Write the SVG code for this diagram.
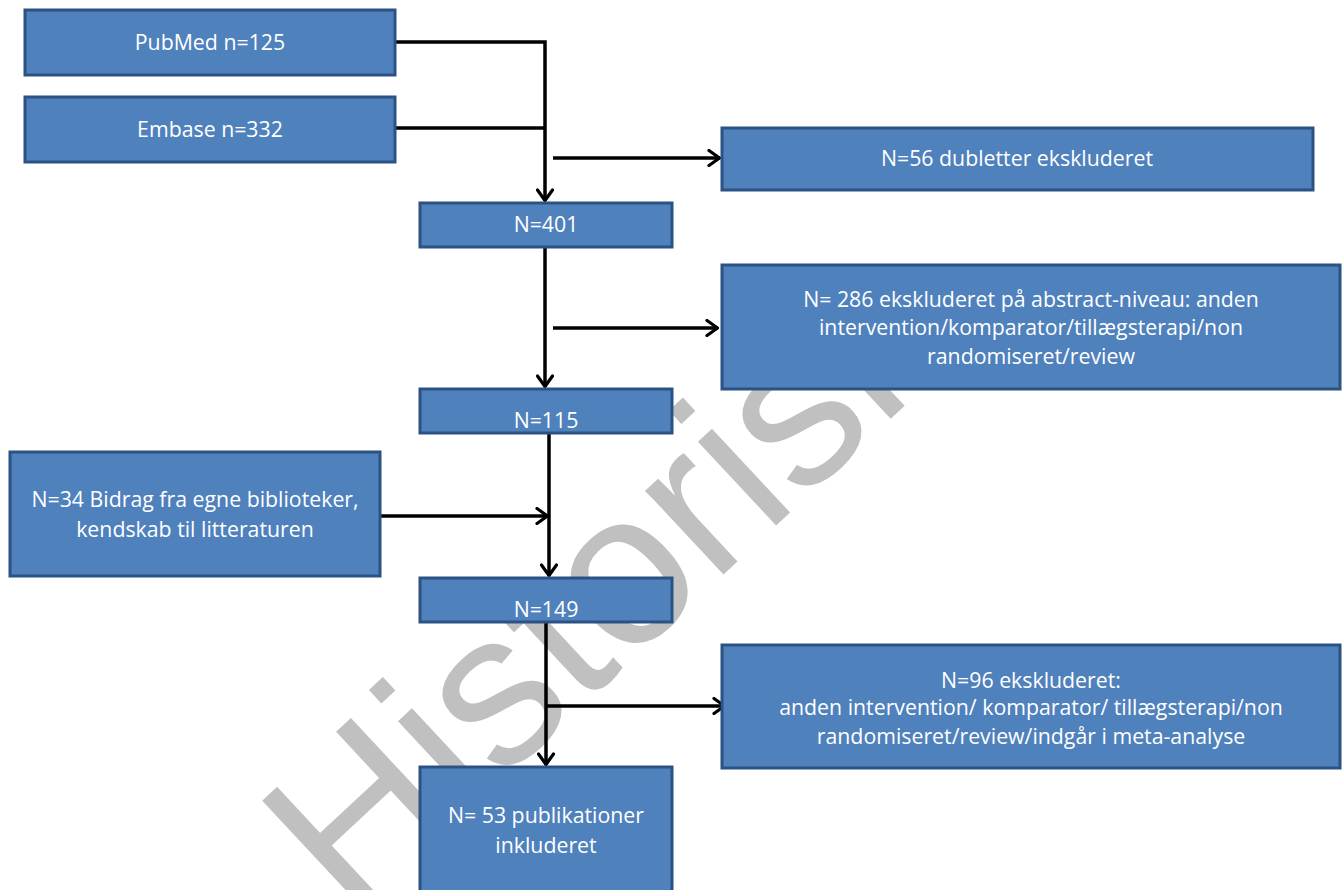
<svg xmlns="http://www.w3.org/2000/svg" width="1344" height="890" viewBox="0 0 1344 890">
<style>
.box{fill:#4F81BD;stroke:#2C5283;stroke-width:3}
.t{font-family:"Open Sans","Liberation Sans",Arial,sans-serif;font-size:21.3px;fill:#FFFFFF;text-anchor:middle}
.c{fill:none;stroke:#000;stroke-width:3.5}
.wm{font-family:"Liberation Sans",Arial,sans-serif;font-size:217px;fill:#C0C0C0}
</style>
<defs>
<marker id="ah" viewBox="0 0 14 18" refX="13" refY="9" markerWidth="14" markerHeight="18" markerUnits="userSpaceOnUse" orient="auto">
<path d="M2,1.5 L12.5,9 L2,16.5" fill="none" stroke="#000" stroke-width="3.2" stroke-linecap="round" stroke-linejoin="round"/>
</marker>
</defs>
<rect width="1344" height="890" fill="#FFFFFF"/>
<text class="wm" transform="translate(351,922) rotate(-43)">Historisk</text>
<g id="connectors">
<path class="c" d="M395,42 H545 V201" marker-end="url(#ah)"/>
<path class="c" d="M395,128 H545"/>
<path class="c" d="M553,158 H720" marker-end="url(#ah)"/>
<path class="c" d="M545,247 V387" marker-end="url(#ah)"/>
<path class="c" d="M553,328 H718" marker-end="url(#ah)"/>
<path class="c" d="M549,433 V576" marker-end="url(#ah)"/>
<path class="c" d="M380,516 H548" marker-end="url(#ah)"/>
<path class="c" d="M546,622 V765" marker-end="url(#ah)"/>
<path class="c" d="M546,706 H725" marker-end="url(#ah)"/>
</g>
<g id="pubmed"><rect class="box" x="25" y="10" width="370" height="65"/><text class="t" x="210" y="50">PubMed n=125</text></g>
<g id="embase"><rect class="box" x="25" y="97" width="370" height="65"/><text class="t" x="210" y="137">Embase n=332</text></g>
<g id="dubletter"><rect class="box" x="722" y="128" width="591" height="62"/><text class="t" x="1017" y="166">N=56 dubletter ekskluderet</text></g>
<g id="n401"><rect class="box" x="420" y="203" width="252" height="44"/><text class="t" x="546" y="232">N=401</text></g>
<g id="abstract"><rect class="box" x="722" y="265" width="618" height="124"/><text class="t" x="1031" y="307">N= 286 ekskluderet på abstract-niveau: anden</text><text class="t" x="1031" y="335">intervention/komparator/tillægsterapi/non</text><text class="t" x="1031" y="364">randomiseret/review</text></g>
<g id="n115"><rect class="box" x="420" y="389" width="252" height="44"/><text class="t" x="546" y="428">N=115</text></g>
<g id="bidrag"><rect class="box" x="10" y="452" width="370" height="124"/><text class="t" x="195" y="507">N=34 Bidrag fra egne biblioteker,</text><text class="t" x="195" y="537">kendskab til litteraturen</text></g>
<g id="n149"><rect class="box" x="420" y="578" width="252" height="44"/><text class="t" x="546" y="617">N=149</text></g>
<g id="ekskl96"><rect class="box" x="722" y="645" width="618" height="123"/><text class="t" x="1031" y="688">N=96 ekskluderet:</text><text class="t" x="1031" y="715">anden intervention/ komparator/ tillægsterapi/non</text><text class="t" x="1031" y="744">randomiseret/review/indgår i meta-analyse</text></g>
<g id="n53"><rect class="box" x="420" y="767" width="252" height="135"/><text class="t" x="546" y="823">N= 53 publikationer</text><text class="t" x="546" y="853">inkluderet</text></g>
</svg>
